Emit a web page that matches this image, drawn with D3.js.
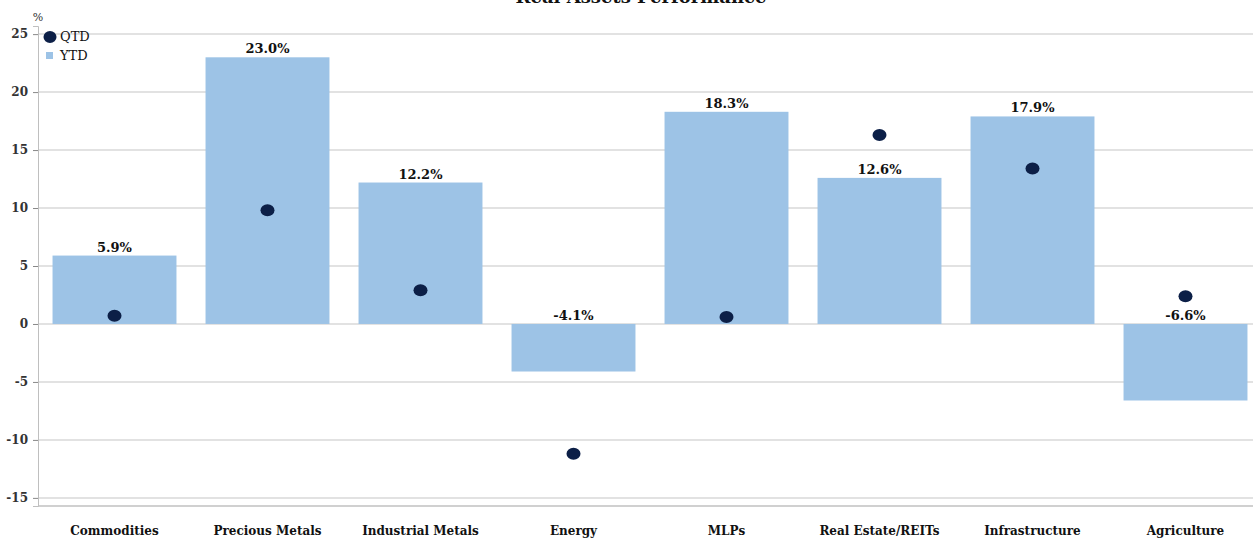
<!DOCTYPE html>
<html>
<head>
<meta charset="utf-8">
<script src="https://cdn.jsdelivr.net/npm/d3@7"></script>
<style>
  body { margin: 0; background: #fff; }
  text { font-family: "DejaVu Serif", "Liberation Serif", serif; }
</style>
</head>
<body>
<svg id="chart"></svg>
<script>
var categories = ["Commodities", "Precious Metals", "Industrial Metals", "Energy", "MLPs", "Real Estate/REITs", "Infrastructure", "Agriculture"];
var ytd = [5.9, 23.0, 12.2, -4.1, 18.3, 12.6, 17.9, -6.6];
var qtd = [0.7, 9.8, 2.9, -11.2, 0.6, 16.3, 13.4, 2.4];
var yTicks = [-15, -10, -5, 0, 5, 10, 15, 20, 25];

var width = 1253, height = 544;
var svg = d3.select("#chart").attr("width", width).attr("height", height);

// scales
var x = d3.scaleBand()
          .domain(categories)
          .range([38, 1262])
          .paddingInner(0.19)
          .paddingOuter(0.095);

var y = d3.scaleLinear()
          .domain([-15.7, 25.7])
          .range([506, 26]);

// title (the reference only shows its lower half)
svg.append("text")
    .attr("x", 641)
    .attr("y", 3)
    .attr("text-anchor", "middle")
    .attr("font-size", "18px")
    .attr("font-weight", "bold")
    .attr("fill", "#111")
    .text("Real Assets Performance");

// gridlines
svg.append("g")
    .selectAll("line")
    .data(yTicks)
    .enter()
    .append("line")
      .attr("x1", 38)
      .attr("x2", width)
      .attr("y1", d => y(d))
      .attr("y2", d => y(d))
      .attr("stroke", "#d9d9d9")
      .attr("stroke-width", 1.5);

// bottom border
svg.append("line")
    .attr("x1", 38).attr("x2", width)
    .attr("y1", y(-15.7)).attr("y2", y(-15.7))
    .attr("stroke", "#d0d0d0")
    .attr("stroke-width", 2);

// y axis
var yAxis = svg.append("g")
    .attr("transform", "translate(38,0)")
    .call(d3.axisLeft(y).tickValues(yTicks).tickFormat(d => String(d)).tickSize(5).tickPadding(5));
yAxis.select(".domain").attr("stroke", "#bfbfbf");
yAxis.selectAll(".tick line").attr("stroke", "#888");
yAxis.selectAll(".tick text")
    .attr("font-family", "DejaVu Serif, serif")
    .attr("font-size", "12px")
    .attr("font-weight", "bold")
    .attr("fill", "#333");

svg.append("text")
    .attr("x", 38).attr("y", 21)
    .attr("text-anchor", "middle")
    .attr("font-size", "11px")
    .attr("fill", "#333")
    .text("%");

// YTD bars
svg.append("g")
    .selectAll("rect")
    .data(ytd)
    .enter()
    .append("rect")
      .attr("x", (d, i) => x(categories[i]))
      .attr("width", x.bandwidth())
      .attr("y", d => y(Math.max(0, d)))
      .attr("height", d => Math.abs(y(d) - y(0)))
      .attr("fill", "#9dc3e6");

// value labels
svg.append("g")
    .selectAll("text")
    .data(ytd)
    .enter()
    .append("text")
      .attr("x", (d, i) => x(categories[i]) + x.bandwidth() / 2)
      .attr("y", d => y(Math.max(0, d)) - 4)
      .attr("text-anchor", "middle")
      .attr("font-size", "13px")
      .attr("font-weight", "bold")
      .attr("fill", "#111")
      .text(d => d.toFixed(1) + "%");

// QTD dots
svg.append("g")
    .selectAll("ellipse")
    .data(qtd)
    .enter()
    .append("ellipse")
      .attr("cx", (d, i) => x(categories[i]) + x.bandwidth() / 2)
      .attr("cy", d => y(d))
      .attr("rx", 7)
      .attr("ry", 6)
      .attr("fill", "#0c1f47");

// category labels
svg.append("g")
    .selectAll("text")
    .data(categories)
    .enter()
    .append("text")
      .attr("x", d => x(d) + x.bandwidth() / 2)
      .attr("y", 535)
      .attr("text-anchor", "middle")
      .attr("font-size", "12px")
      .attr("font-weight", "bold")
      .attr("fill", "#111")
      .text(d => d);

// legend
var legend = svg.append("g");
legend.append("ellipse")
    .attr("cx", 50).attr("cy", 37).attr("rx", 6.5).attr("ry", 6)
    .attr("fill", "#0c1f47");
legend.append("text")
    .attr("x", 60).attr("y", 41)
    .attr("font-size", "13px")
    .attr("fill", "#111")
    .text("QTD");
legend.append("rect")
    .attr("x", 46).attr("y", 52).attr("width", 7).attr("height", 7)
    .attr("fill", "#9dc3e6");
legend.append("text")
    .attr("x", 60).attr("y", 60)
    .attr("font-size", "13px")
    .attr("fill", "#111")
    .text("YTD");
</script>
</body>
</html>
